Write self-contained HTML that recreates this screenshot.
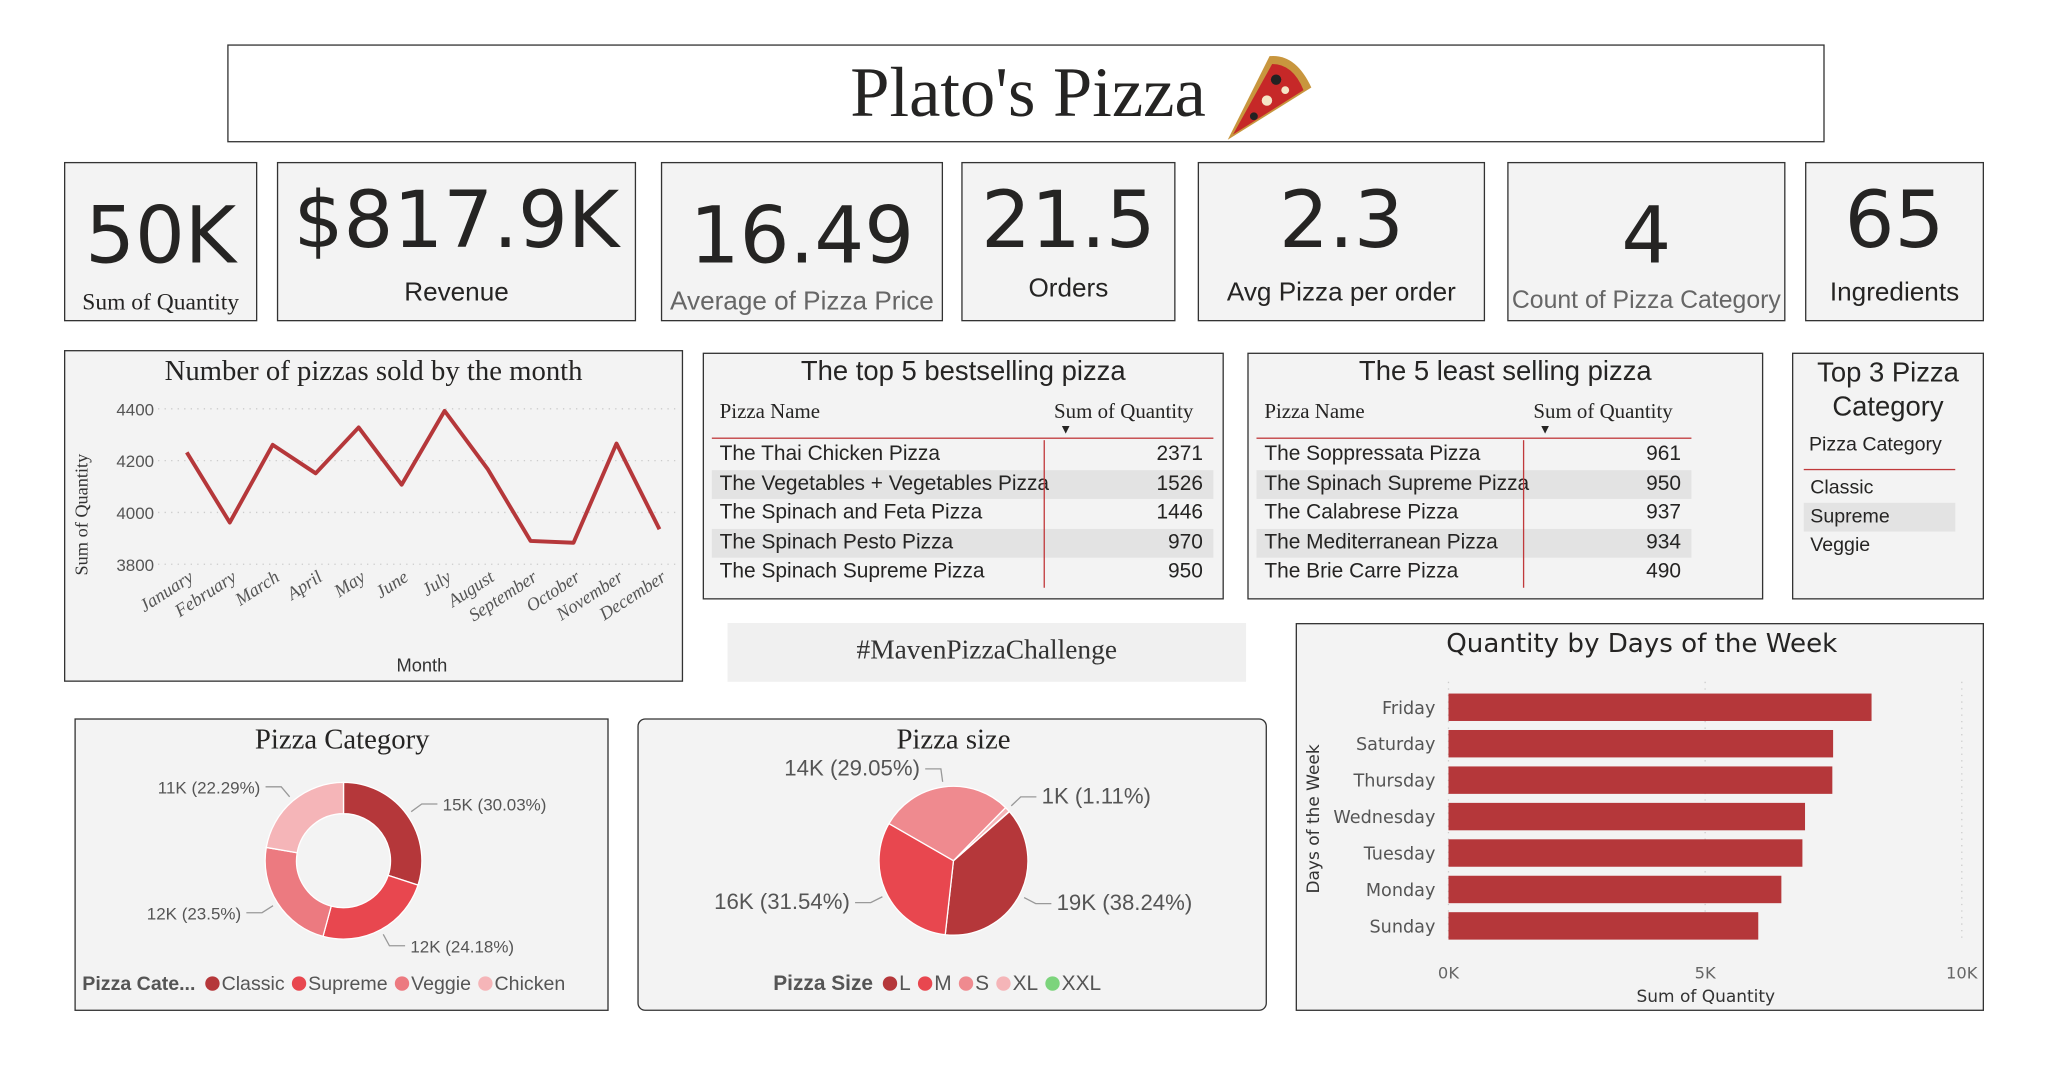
<!DOCTYPE html>
<html><head><meta charset="utf-8"><style>
html,body{margin:0;padding:0;width:2048px;height:1071px;overflow:hidden;background:#fff;}
#root{position:absolute;left:0;top:0;width:1568px;height:820px;transform:scale(1.30612);transform-origin:0 0;font-family:"DejaVu Sans","Liberation Sans",sans-serif;color:#252423;}
.box{position:absolute;box-sizing:border-box;border:1.5px solid #333;background:#f3f3f3;}
.kpi .v{position:absolute;left:0;right:0;text-align:center;font-size:60px;line-height:1;}
.kpi .l{position:absolute;left:0;right:0;text-align:center;font-size:20px;font-family:"Liberation Sans",sans-serif;white-space:nowrap;}
.serif{font-family:"Liberation Serif",serif;}
</style></head><body>
<div id="root">
<div class="box" style="left:174px;top:34px;width:1223px;height:75px;background:#fff;">
 <div class="serif" style="position:absolute;left:476px;top:5px;font-size:54px;white-space:nowrap;">Plato's Pizza</div>
 <svg style="position:absolute;left:757px;top:2px" width="75" height="72" viewBox="0 0 75 72"><path d="M40 6 Q60 4 72 30 L8 70 Z" fill="#c8963e"/><path d="M42 12 Q58 12 66 32 L12 66 Z" fill="#c62828"/><circle cx="45" cy="24" r="4" fill="#222"/><circle cx="38" cy="40" r="4" fill="#f5e6c8"/><circle cx="28" cy="52" r="3" fill="#222"/><circle cx="52" cy="32" r="3" fill="#f5e6c8"/></svg>
</div>

<div class="box kpi" style="left:49px;top:124px;width:148px;height:122px;"><div class="v" style="top:26px">50K</div><div class="l serif" style="top:96px;font-size:18px;font-family:'Liberation Serif',serif">Sum of Quantity</div></div>
<div class="box kpi" style="left:212px;top:124px;width:275px;height:122px;"><div class="v" style="top:14px">$817.9K</div><div class="l" style="top:88px">Revenue</div></div>
<div class="box kpi" style="left:506px;top:124px;width:216px;height:122px;"><div class="v" style="top:26px">16.49</div><div class="l" style="top:95px;color:#666">Average of Pizza Price</div></div>
<div class="box kpi" style="left:736px;top:124px;width:164px;height:122px;"><div class="v" style="top:14px">21.5</div><div class="l" style="top:85px">Orders</div></div>
<div class="box kpi" style="left:917px;top:124px;width:220px;height:122px;"><div class="v" style="top:14px">2.3</div><div class="l" style="top:88px">Avg Pizza per order</div></div>
<div class="box kpi" style="left:1154px;top:124px;width:213px;height:122px;"><div class="v" style="top:26px">4</div><div class="l" style="top:95px;color:#666;font-size:19px">Count of Pizza Category</div></div>
<div class="box kpi" style="left:1382px;top:124px;width:137px;height:122px;"><div class="v" style="top:14px">65</div><div class="l" style="top:88px">Ingredients</div></div>

<div class="box" style="left:49px;top:268px;width:474px;height:254px;">
<svg id="lineSvg" width="474" height="254" style="position:absolute;left:-1.5px;top:-1.5px"></svg></div>

<div class="box" style="left:538px;top:270px;width:399px;height:189px;">
 <div style="position:absolute;left:0;right:0;top:2px;text-align:center;font-size:21px;font-family:'Liberation Sans',sans-serif">The top 5 bestselling pizza</div>
 <div id="top5" style="position:absolute;left:6px;top:34px;width:384px"></div></div>
<div class="box" style="left:955px;top:270px;width:395px;height:189px;">
 <div style="position:absolute;left:0;right:0;top:2px;text-align:center;font-size:21px;font-family:'Liberation Sans',sans-serif">The 5 least selling pizza</div>
 <div id="least5" style="position:absolute;left:6px;top:34px;width:333px"></div></div>
<div class="box" style="left:1372px;top:270px;width:147px;height:189px;font-family:'Liberation Sans',sans-serif">
 <div style="position:absolute;left:0;right:0;top:2px;text-align:center;font-size:21px;line-height:26px">Top 3 Pizza Category</div>
 <div style="position:absolute;left:12px;top:61px;font-size:15px">Pizza Category</div>
 <div style="position:absolute;left:8px;width:116px;top:88px;border-top:1.5px solid #c0393b"></div>
 <div style="position:absolute;left:8px;width:116px;top:92px;height:22px;font-size:15px;padding-left:5px;box-sizing:border-box;line-height:22px">Classic</div>
 <div style="position:absolute;left:8px;width:116px;top:114px;height:22px;font-size:15px;padding-left:5px;box-sizing:border-box;line-height:22px;background:#e3e3e3">Supreme</div>
 <div style="position:absolute;left:8px;width:116px;top:136px;height:22px;font-size:15px;padding-left:5px;box-sizing:border-box;line-height:22px">Veggie</div>
</div>

<div class="serif" style="position:absolute;left:557px;top:477px;width:397px;height:45px;background:#f0f0f0;text-align:center;line-height:40px;font-size:21px;color:#333">#MavenPizzaChallenge</div>

<div class="box" style="left:992px;top:477px;width:527px;height:297px;">
<svg id="barSvg" width="527" height="297" style="position:absolute;left:-1.5px;top:-1.5px"></svg></div>

<div class="box" style="left:57px;top:550px;width:409px;height:224px;">
<svg id="donutSvg" width="409" height="224" style="position:absolute;left:-1.5px;top:-1.5px"></svg></div>

<div class="box" style="left:488px;top:550px;width:482px;height:224px;border-radius:6px;">
<svg id="pieSvg" width="482" height="224" style="position:absolute;left:-1.5px;top:-1.5px"></svg></div>
</div>

<script>
const months=["January","February","March","April","May","June","July","August","September","October","November","December"];
const monthQty=[4232,3961,4261,4151,4328,4107,4392,4168,3890,3883,4266,3935];
const yTicks=[3800,4000,4200,4400];
const days=["Friday","Saturday","Thursday","Wednesday","Tuesday","Monday","Sunday"];
const dayQty=[8242,7493,7478,6946,6895,6485,6035];
const xTicks=[0,5000,10000];
const xTickLabels=["0K","5K","10K"];
const catNames=["Classic","Supreme","Veggie","Chicken"];
const catPct=[30.03,24.18,23.5,22.29];
const catLabels=["15K (30.03%)","12K (24.18%)","12K (23.5%)","11K (22.29%)"];
const sizeNames=["L","M","S","XL","XXL"];
const sizePct=[38.24,31.54,29.05,1.11,0.06];
const sizeLabels=["19K (38.24%)","16K (31.54%)","14K (29.05%)","1K (1.11%)",""];
const top5Names=["The Thai Chicken Pizza","The Vegetables + Vegetables Pizza","The Spinach and Feta Pizza","The Spinach Pesto Pizza","The Spinach Supreme Pizza"];
const top5Qty=[2371,1526,1446,970,950];
const least5Names=["The Soppressata Pizza","The Spinach Supreme Pizza","The Calabrese Pizza","The Mediterranean Pizza","The Brie Carre Pizza"];
const least5Qty=[961,950,937,934,490];

const NS="http://www.w3.org/2000/svg";
function mk(p,t,a,txt){const e=document.createElementNS(NS,t);for(const k in a)e.setAttribute(k,a[k]);if(txt!==undefined)e.textContent=txt;p.appendChild(e);return e;}

(function(){
const s=document.getElementById('lineSvg');
const t=mk(s,'text',{x:237,y:23,'text-anchor':'middle','font-size':22,'font-family':'Liberation Serif,serif',fill:'#252423'},'Number of pizzas sold by the month');


const y=v=>164-(v-3800)/600*119, x=i=>94+i*32.9;
yTicks.forEach(v=>{
 const g=mk(s,'line',{x1:72,x2:468,y1:y(v),y2:y(v),stroke:'#ccc','stroke-dasharray':'1 4'});
 
 
 const l=mk(s,'text',{x:69,y:y(v)+5,'text-anchor':'end','font-size':13,'font-family':'Liberation Sans,sans-serif',fill:'#555'},v);
 
 
});
months.forEach((m,i)=>{
 const l=mk(s,'text',{x:x(i)+6,y:176,'text-anchor':'end','font-size':14,'font-style':'italic','font-family':'Liberation Serif,serif',fill:'#555',transform:`rotate(-33 ${x(i)+6} 176)`},m);
 
 
});
const p=mk(s,'polyline',{points:monthQty.map((v,i)=>x(i)+','+y(v)).join(' '),fill:'none',stroke:'#b5373a','stroke-width':3,'stroke-linejoin':'round'});


const ya=mk(s,'text',{x:0,y:0,'text-anchor':'middle','font-size':14,'font-family':'Liberation Serif,serif',fill:'#333',transform:'translate(18,126) rotate(-90)'},'Sum of Quantity');


const xa=mk(s,'text',{x:274,y:246,'text-anchor':'middle','font-size':14,'font-family':'Liberation Sans,sans-serif',fill:'#333'},'Month');


})();

function table(id,names,vals,lineX,w){
 const c=document.getElementById(id);
 c.style.fontFamily="'Liberation Sans',sans-serif";
 let h=`<div style="position:relative;height:30px;font-family:'Liberation Serif',serif;font-size:16px"><span style="position:absolute;left:6px;top:2px">Pizza Name</span><span style="position:absolute;left:${lineX+6}px;top:2px">Sum of Quantity</span><span style="position:absolute;left:${lineX+10}px;top:19px;font-size:10px">▼</span></div><div style="border-top:1.5px solid #c0393b;width:${w}px"></div>`;
 c.innerHTML=h;
 const body=document.createElement('div');body.style.position='relative';body.style.marginTop='1px';c.appendChild(body);
 names.forEach((n,i)=>{
  const r=document.createElement('div');
  
  
  r.style.cssText=`position:relative;height:22.5px;line-height:22.5px;font-size:16px;width:${w}px;background:${i%2?'#e3e3e3':'transparent'}`;
  r.innerHTML=`<span style="position:absolute;left:6px">${n}</span><span style="position:absolute;right:8px">${vals[i]}</span>`;
  body.appendChild(r);
 });
 const v=document.createElement('div');v.style.cssText=`position:absolute;left:${lineX-2}px;top:0;height:113px;border-left:1.5px solid #c0393b`;body.appendChild(v);
}
table('top5',top5Names,top5Qty,256,384);
table('least5',least5Names,least5Qty,206,333);

(function(){
const s=document.getElementById('barSvg');
const t=mk(s,'text',{x:265,y:22,'text-anchor':'middle','font-size':20,fill:'#252423'},'Quantity by Days of the Week');


const x=v=>117+v/10000*393, y=i=>54+i*27.9;
xTicks.forEach((v,i)=>{
 const g=mk(s,'line',{x1:x(v),x2:x(v),y1:45,y2:245,stroke:'#ccc','stroke-dasharray':'1 4'});
 
 
 const l=mk(s,'text',{x:x(v),y:272,'text-anchor':'middle','font-size':12.5,fill:'#666'},xTickLabels[i]);
 
 
});
days.forEach((d,i)=>{
 const b=mk(s,'rect',{x:x(0),y:y(i),width:x(dayQty[i])-x(0),height:21,fill:'#b5373a'});
 
 
 const l=mk(s,'text',{x:x(0)-10,y:y(i)+15.5,'text-anchor':'end','font-size':13.5,fill:'#555'},d);
 
 
});
const ya=mk(s,'text',{x:0,y:0,'text-anchor':'middle','font-size':13,fill:'#333',transform:'translate(18,150) rotate(-90)'},'Days of the Week');


const xa=mk(s,'text',{x:314,y:290,'text-anchor':'middle','font-size':13,fill:'#333'},'Sum of Quantity');


})();

function arc(cx,cy,r,ri,a0,a1){
 const P=(a,rr)=>[cx+rr*Math.sin(a),cy-rr*Math.cos(a)];
 const lg=(a1-a0)>Math.PI?1:0;
 const [x0,y0]=P(a0,r),[x1,y1]=P(a1,r);
 if(ri>0){const [x2,y2]=P(a1,ri),[x3,y3]=P(a0,ri);
  return `M${x0},${y0}A${r},${r} 0 ${lg} 1 ${x1},${y1}L${x2},${y2}A${ri},${ri} 0 ${lg} 0 ${x3},${y3}Z`;}
 return `M${cx},${cy}L${x0},${y0}A${r},${r} 0 ${lg} 1 ${x1},${y1}Z`;
}
function pieChart(id,title,tx,names,pct,labels,colors,cx,cy,r,ri,start,legendTitle,legendX,fs,lfs){
 const s=document.getElementById(id);
 const t=mk(s,'text',{x:tx,y:23,'text-anchor':'middle','font-size':22,'font-family':'Liberation Serif,serif',fill:'#252423'},title);
 
 
 let a=start;const tot=pct.reduce((p,c)=>p+c,0);
 pct.forEach((p,i)=>{
  const a1=a+p/tot*2*Math.PI;
  const sl=mk(s,'path',{d:arc(cx,cy,r,ri,a,a1),fill:colors[i],stroke:'#fff','stroke-width':1});
  
  
  if(labels[i]){
   const m=(a+a1)/2,sx=Math.sin(m),sy=-Math.cos(m);
   const px=cx+(r+4)*sx,py=cy+(r+4)*sy,qx=cx+(r+14)*sx,qy=cy+(r+14)*sy,ex=qx+(sx>0?12:-12);
   mk(s,'polyline',{points:`${px},${py} ${qx},${qy} ${ex},${qy}`,fill:'none',stroke:'#999','stroke-width':1});
   const l=mk(s,'text',{x:ex+(sx>0?4:-4),y:qy+5,'text-anchor':sx>0?'start':'end','font-size':fs,'font-family':'Liberation Sans,sans-serif',fill:'#555'},labels[i]);
   
   
  }
  a=a1;
 });
 const lt=mk(s,'text',{x:legendX,y:208,'font-size':lfs,'font-weight':'bold','font-family':'Liberation Sans,sans-serif',fill:'#555'},legendTitle);
 
 
 let lx=legendX+lt.getComputedTextLength()+8;
 names.forEach((n,i)=>{
  const c=mk(s,'circle',{cx:lx+5,cy:203,r:5.5,fill:colors[i]});
  
  
  const e=mk(s,'text',{x:lx+12,y:208,'font-size':lfs,'font-family':'Liberation Sans,sans-serif',fill:'#555'},n);
  
  
  lx+=12+e.getComputedTextLength()+6;
 });
}
pieChart('donutSvg','Pizza Category',205,catNames,catPct,catLabels,['#b5373a','#e8474f','#ec7a80','#f5b5b8'],206,109,60,36,0,'Pizza Cate...',6,13,15);
pieChart('pieSvg','Pizza size',242,sizeNames,sizePct,sizeLabels,['#b5373a','#e8474f','#ef8a8f','#f5b5b8','#7cd47c'],242,109,57,0,0.85,'Pizza Size',104,17,16);
</script>
</body></html>
